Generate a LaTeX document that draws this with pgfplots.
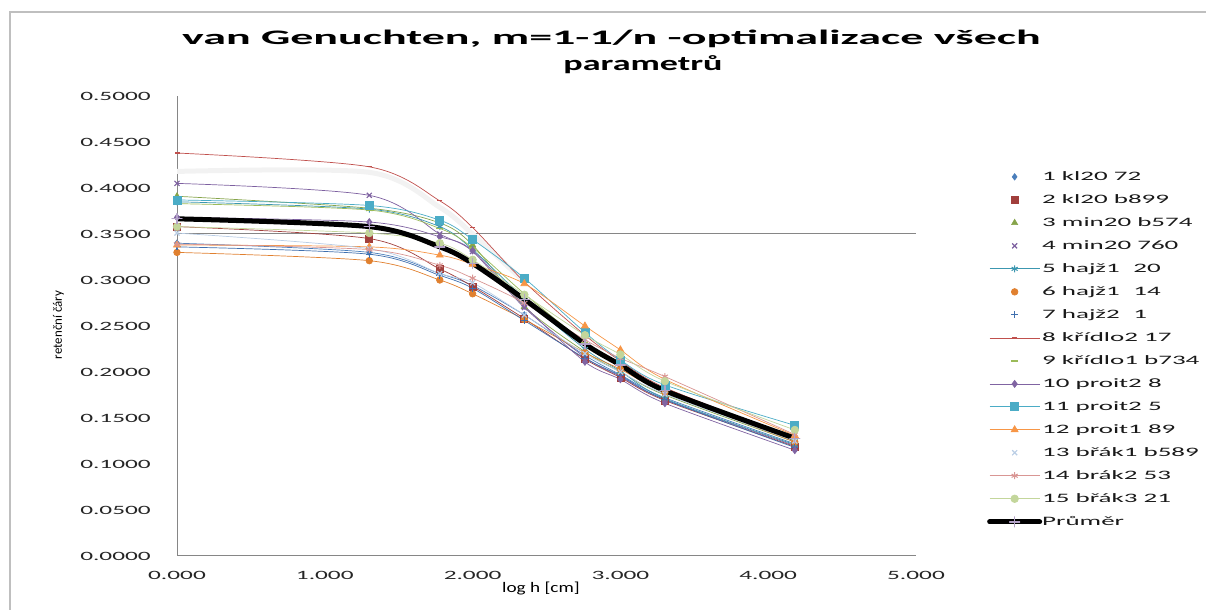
\documentclass[border=0pt]{standalone}
\usepackage{pgfplots}
\pgfplotsset{compat=1.18}
\usepackage{pgfplotstable}
\usepackage{fontspec}
\setmainfont{Carlito}
\usepackage{graphicx}

\definecolor{c1}{HTML}{4A7EBB}
\definecolor{c2}{HTML}{A13F3C}
\definecolor{c3}{HTML}{86A44A}
\definecolor{c4}{HTML}{7D60A0}
\definecolor{c5}{HTML}{3C97B0}
\definecolor{c6}{HTML}{E0802F}
\definecolor{c7}{HTML}{3F6FAE}
\definecolor{c8}{HTML}{C0504D}
\definecolor{c9}{HTML}{9BBB59}
\definecolor{c10}{HTML}{8064A2}
\definecolor{c11}{HTML}{4BACC6}
\definecolor{c12}{HTML}{F79646}
\definecolor{c13}{HTML}{B9CDE5}
\definecolor{c14}{HTML}{D99694}
\definecolor{c15}{HTML}{C3D69B}
\definecolor{cavgm}{HTML}{B3A2C7}
\definecolor{axgray}{HTML}{868686}

\newcommand{\tk}[1]{\scalebox{2.0}[1]{#1}}
\newcommand{\lgd}[1]{\scalebox{2.1}[1]{#1}}

\pgfplotstableread{
x     s1   s2   s3   s4   s5   s6   s7   s8   s9   s10  s11  s12  s13  s14  s15  avg
0.000 .340 .358 .391 .405 .385 .330 .336 .438 .383 .368 .387 .338 .351 .339 .358 .3665
1.301 .330 .345 .378 .392 .377 .321 .328 .423 .376 .363 .381 .336 .334 .333 .351 .358
1.778 .307 .312 .362 .350 .358 .300 .305 .386 .356 .347 .365 .327 .307 .316 .340 .336
2.000 .294 .293 .338 .331 .333 .285 .291 .357 .335 .332 .344 .317 .297 .302 .322 .318
2.350 .262 .258 .271 .270 .280 .257 .256 .298 .285 .272 .302 .296 .262 .275 .284 .279
2.760 .218 .214 .222 .216 .225 .221 .215 .240 .232 .211 .243 .250 .220 .235 .240 .2304
3.000 .197 .194 .200 .195 .201 .203 .196 .212 .208 .192 .213 .224 .200 .215 .219 .2076
3.301 .172 .169 .175 .170 .171 .178 .170 .183 .180 .166 .186 .192 .176 .195 .190 .1797
4.180 .122 .119 .124 .120 .121 .124 .118 .128 .127 .115 .142 .131 .125 .132 .137 .128
}\data

\begin{document}
\begin{tikzpicture}[x=1bp,y=1bp]
\useasboundingbox (0,0) rectangle (1206,610);
\draw[gray!50, line width=2bp] (10,0) -- (10,598) -- (1206,598);
\begin{axis}[
  at={(177bp,54bp)}, anchor=south west,
  scale only axis, width=739bp, height=460bp,
  xmin=0, xmax=5, ymin=0, ymax=0.5,
  axis lines*=left,
  axis line style={draw=axgray, line width=1bp},
  major tick length=0pt,
  xtick={0,1,2,3,4,5},
  xticklabels={\tk{0.000},\tk{1.000},\tk{2.000},\tk{3.000},\tk{4.000},\tk{5.000}},
  ytick={0,0.05,0.1,0.15,0.2,0.25,0.3,0.35,0.4,0.45,0.5},
  yticklabels={\tk{0.0000},\tk{0.0500},\tk{0.1000},\tk{0.1500},\tk{0.2000},\tk{0.2500},\tk{0.3000},\tk{0.3500},\tk{0.4000},\tk{0.4500},\tk{0.5000}},
  tick label style={font=\fontsize{12.7}{14}\selectfont, text=black!85},
  xticklabel style={anchor=north, inner sep=0pt, yshift=-15bp},
  yticklabel style={anchor=east, inner sep=0pt, xshift=-26bp},
  every axis plot/.append style={smooth, line width=0.7bp},
  legend style={at={(1.096,0.836)}, anchor=north west, draw=none, fill=none,
    inner sep=0pt, row sep=12.6bp, column sep=0bp,
    font=\fontsize{12.9}{14}\selectfont, nodes={inner sep=0pt, text=black!90}},
  legend cell align=left,
  legend image code/.code={\draw[mark repeat=2,mark phase=2,#1] plot coordinates {(0bp,0bp) (25bp,0bp) (50bp,0bp)};},
]
% grid line and faint shadow
\addplot[axgray, line width=1bp, no marks, sharp plot, forget plot] coordinates {(0,0.35) (5,0.35)};
\addplot[black!5, line width=5bp, no marks, forget plot] coordinates {(0,0.418) (1.301,0.417) (1.778,0.379) (2.0,0.350) (2.35,0.298)};

\addplot[c1, mark=diamond*, mark size=3.2bp, mark options={fill=c1, draw=c1},
  legend image post style={only marks}] table[x=x,y=s1] {\data};
\addplot[c2, mark=square*, mark size=3.5bp, mark options={fill=c2, draw=c2},
  legend image post style={only marks}] table[x=x,y=s2] {\data};
\addplot[c3, mark=triangle*, mark size=3.5bp, mark options={fill=c3, draw=c3},
  legend image post style={only marks}] table[x=x,y=s3] {\data};
\addplot[c4, mark=x, mark size=3.5bp, mark options={draw=c4, line width=1.2bp},
  legend image post style={only marks}] table[x=x,y=s4] {\data};
\addplot[c5, mark=asterisk, mark size=3.5bp, mark options={draw=c5, line width=1bp}] table[x=x,y=s5] {\data};
\addplot[c6, mark=*, mark size=3.3bp, mark options={fill=c6, draw=c6},
  legend image post style={only marks}] table[x=x,y=s6] {\data};
\addplot[c7, mark=+, mark size=3.5bp, mark options={draw=c7, line width=1.2bp},
  legend image post style={only marks}] table[x=x,y=s7] {\data};
\addplot[c8, mark=-, mark size=2.5bp, mark options={draw=c8, line width=1.2bp}] table[x=x,y=s8] {\data};
\addplot[c9, mark=-, mark size=3.5bp, mark options={draw=c9, line width=1.5bp},
  legend image post style={only marks}] table[x=x,y=s9] {\data};
\addplot[c10, mark=diamond*, mark size=3.5bp, mark options={fill=c10, draw=c10}] table[x=x,y=s10] {\data};
\addplot[c11, mark=square*, mark size=4bp, mark options={fill=c11, draw=c11}] table[x=x,y=s11] {\data};
\addplot[c12, mark=triangle*, mark size=4bp, mark options={fill=c12, draw=c12}] table[x=x,y=s12] {\data};
\addplot[c13, mark=x, mark size=3.5bp, mark options={draw=c13, line width=1.2bp},
  legend image post style={only marks}] table[x=x,y=s13] {\data};
\addplot[c14, mark=asterisk, mark size=3.5bp, mark options={draw=c14, line width=1bp}] table[x=x,y=s14] {\data};
\addplot[c15, mark=*, mark size=3.8bp, mark options={fill=c15, draw=c15}] table[x=x,y=s15] {\data};
\addplot[black, line width=5bp, line cap=round, mark=+, mark size=5bp, mark options={draw=cavgm, line width=1.3bp}] table[x=x,y=avg] {\data};

\legend{\lgd{1 kl20 72},\lgd{2 kl20 b899},\lgd{3 min20 b574},\lgd{4 min20 760},\lgd{5 hajž1\enspace 20},\lgd{6 hajž1\enspace 14},\lgd{7 hajž2\enspace 1},\lgd{8 křídlo2 17},\lgd{9 křídlo1 b734},\lgd{10 proit2 8},\lgd{11 proit2 5},\lgd{12 proit1 89},\lgd{13 břák1 b589},\lgd{14 brák2 53},\lgd{15 břák3 21},\lgd{Průměr}}
\end{axis}
\node[anchor=base, font=\fontsize{20.7}{24}\selectfont\bfseries] at (611.5,565) {\scalebox{2.23}[1]{van Genuchten, m=1-1/n -optimalizace všech}};
\node[anchor=base, font=\fontsize{20.7}{24}\selectfont\bfseries] at (643,539) {\scalebox{1.75}[1]{parametrů}};
\node[rotate=90, font=\fontsize{13}{15}\selectfont] at (58.5,285) {retenční čáry};
\node[anchor=base, font=\fontsize{14.6}{16}\selectfont] at (541,17) {\scalebox{1.32}[1]{log h [cm]}};
\end{tikzpicture}
\end{document}
